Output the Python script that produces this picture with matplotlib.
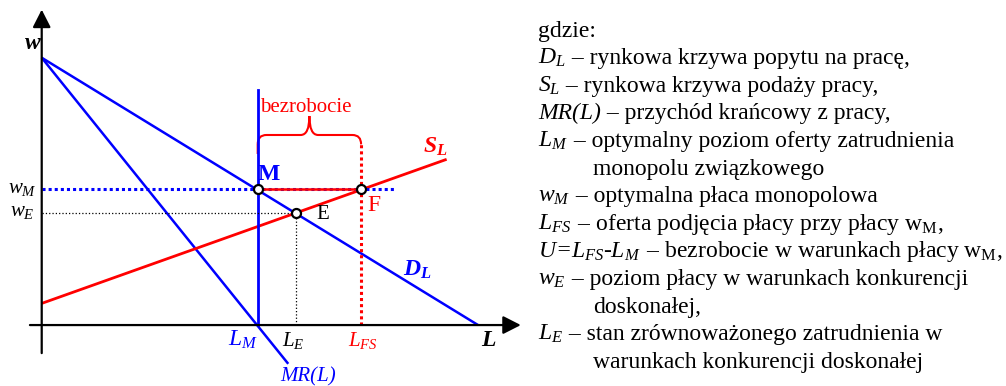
import matplotlib
matplotlib.use('Agg')
import matplotlib.pyplot as plt
from matplotlib.path import Path
from matplotlib.patches import PathPatch

plt.rcParams['font.family'] = ['Liberation Serif', 'DejaVu Serif']
plt.rcParams['mathtext.fontset'] = 'custom'
plt.rcParams['mathtext.rm'] = 'Liberation Serif'
plt.rcParams['mathtext.it'] = 'Liberation Serif:italic'
plt.rcParams['mathtext.bf'] = 'Liberation Serif:bold'
plt.rcParams['mathtext.bfit'] = 'Liberation Serif:italic:bold'

# curves (L, w)
demand_L = [0, 10.0]
demand_w = [10.0, 0]
mr_L = [0, 5.65]
mr_w = [10.0, -1.45]
supply_L = [0, 9.28]
supply_w = [0.81, 6.2]

# characteristic points
L_M, w_M = 4.95, 5.08
L_E, w_E = 5.82, 4.18
L_FS = 7.32
LM_top = 8.79
wM_end = 8.1

# legend: (italic symbol part, rest of line, indented?)
legend_lines = [
    ('', 'gdzie:', False),
    ('$D_L$', ' – rynkowa krzywa popytu na pracę,', False),
    ('$S_L$', ' – rynkowa krzywa podaży pracy,', False),
    ('MR(L)', ' – przychód krańcowy z pracy,', False),
    ('$L_M$', ' – optymalny poziom oferty zatrudnienia', False),
    ('', 'monopolu związkowego', True),
    ('$w_M$', ' – optymalna płaca monopolowa', False),
    ('$L_{FS}$', r' – oferta podjęcia płacy przy płacy w$_\mathrm{M}$,', False),
    ('$U$=$L_{FS}$-$L_M$', r' – bezrobocie w warunkach płacy w$_\mathrm{M}$,', False),
    ('$w_E$', ' – poziom płacy w warunkach konkurencji', False),
    ('', 'doskonałej,', True),
    ('$L_E$', ' – stan zrównoważonego zatrudnienia w', False),
    ('', 'warunkach konkurencji doskonałej', True),
]

blue = '#0000ff'
red = '#ff0000'

fig = plt.figure(figsize=(10.06, 3.86), dpi=100)
ax = fig.add_axes([0, 0, 1, 1])
ax.set_xlim(-0.956, 22.1)
ax.set_ylim(-2.28, 12.16)
ax.axis('off')

# axes with arrows
arrow = dict(arrowstyle='-|>,head_length=1.08,head_width=0.55', color='k',
             lw=1.6, shrinkA=0, shrinkB=0, mutation_scale=10)
ax.annotate('', xy=(0, 11.8), xytext=(0, -1.05), arrowprops=arrow)
ax.annotate('', xy=(10.98, 0), xytext=(-0.27, 0), arrowprops=arrow)

# curves
ax.plot(demand_L, demand_w, color=blue, lw=1.8, solid_capstyle='butt')
ax.plot(mr_L, mr_w, color=blue, lw=1.8, solid_capstyle='butt')
ax.plot(supply_L, supply_w, color=red, lw=2.0, solid_capstyle='butt')
ax.plot([L_M, L_M], [0, LM_top], color=blue, lw=2.0)

# guide lines
ax.plot([0, wM_end], [w_M, w_M], color=blue, lw=2.2, linestyle=(0, (1, 1)))
ax.plot([L_M, L_FS], [w_M, w_M], color=red, lw=1.8, zorder=3)
ax.plot([0, L_E], [w_E, w_E], color='k', lw=0.9, linestyle=':')
ax.plot([L_E, L_E], [0, w_E], color='k', lw=0.9, linestyle=':')

# brace over unemployment
yb, yh, yt = 6.40, 7.11, 7.82
xm = (L_M + L_FS) / 2
verts = [(L_M, yb), (L_M, yh - 0.35), (L_M, yh), (L_M + 0.2, yh),
         (xm - 0.2, yh), (xm, yh), (xm, yt), (xm, yh), (xm + 0.2, yh),
         (L_FS - 0.2, yh), (L_FS, yh), (L_FS, yh - 0.35)]
codes = [Path.MOVETO, Path.LINETO, Path.CURVE3, Path.CURVE3,
         Path.LINETO, Path.CURVE3, Path.CURVE3, Path.CURVE3, Path.CURVE3,
         Path.LINETO, Path.CURVE3, Path.CURVE3]
ax.add_patch(PathPatch(Path(verts, codes), fill=False, edgecolor=red, lw=1.5))
ax.plot([L_FS, L_FS], [0, yh - 0.35], color=red, lw=2.2, linestyle=(0, (1, 1)))

# points
ax.plot([L_M, L_FS, L_E], [w_M, w_M, w_E], 'o', ms=6.5, mfc='white',
        mec='k', mew=1.6, zorder=5)

# labels
ax.text(6.06, 8.12, 'bezrobocie', color=red, fontsize=15, ha='center', va='center')
ax.text(5.21, 5.65, 'M', color=blue, fontsize=17, fontweight='bold', ha='center', va='center')
ax.text(7.62, 4.49, 'F', color=red, fontsize=17, ha='center', va='center')
ax.text(6.45, 4.12, 'E', color='k', fontsize=15, ha='center', va='center')
ax.text(9.01, 6.66, r'$\mathbfit{S_L}$', color=red, fontsize=17, ha='center', va='center')
ax.text(8.60, 2.06, r'$\mathbfit{D_L}$', color=blue, fontsize=17, ha='center', va='center')
ax.text(-0.2, 10.55, r'$\mathbfit{w}$', color='k', fontsize=17, ha='center', va='center')
ax.text(-0.45, 5.1, '$w_M$', color='k', fontsize=15, ha='center', va='center')
ax.text(-0.45, 4.23, '$w_E$', color='k', fontsize=15, ha='center', va='center')
ax.text(4.61, -0.56, '$L_M$', color=blue, fontsize=17, ha='center', va='center')
ax.text(5.76, -0.56, '$L_E$', color='k', fontsize=15, ha='center', va='center')
ax.text(7.36, -0.56, '$L_{FS}$', color=red, fontsize=15, ha='center', va='center')
ax.text(10.25, -0.56, r'$\mathbfit{L}$', color='k', fontsize=17, ha='center', va='center')
ax.text(6.10, -1.92, 'MR(L)', color=blue, fontsize=15, fontstyle='italic',
        ha='center', va='center')

# legend text on the right
renderer = fig.canvas.get_renderer()
for i, (sym, rest, indent) in enumerate(legend_lines):
    y = 1 - (36.5 + 27.6 * i) / 386
    x_px = 593 if indent else 538
    if sym:
        t = fig.text(x_px / 1006, y, sym, fontsize=17, fontstyle='italic',
                     ha='left', va='baseline')
        x_px = t.get_window_extent(renderer).x1
    fig.text(x_px / 1006, y, rest, fontsize=17, ha='left', va='baseline')

fig.savefig('out.png', dpi=100)
